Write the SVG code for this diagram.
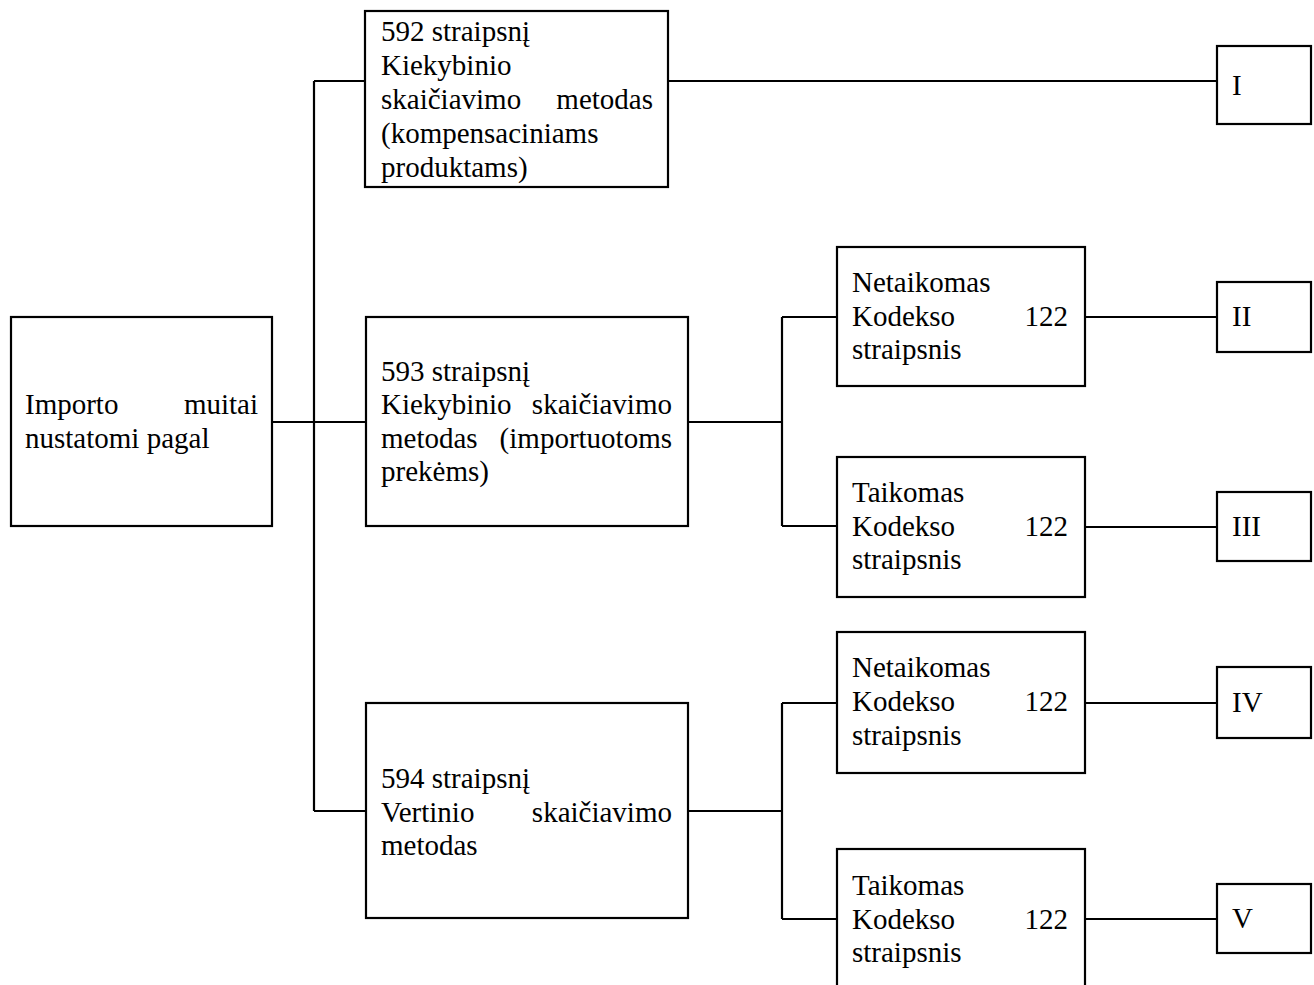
<svg xmlns="http://www.w3.org/2000/svg" width="1314" height="985" viewBox="0 0 1314 985">
<style>
rect{fill:#fff;stroke:#000;stroke-width:2.2}
text{font-family:"Liberation Serif","Times New Roman",serif;font-size:29px;fill:#000}
.e{text-anchor:end}
#connectors path{fill:none;stroke:#000;stroke-width:2.2}
</style>
<rect x="0" y="0" width="1314" height="985" style="fill:#fff;stroke:none"/>
<g id="connectors">
<path d="M314,81 V811"/>
<path d="M314,81 H365"/>
<path d="M272,422 H366"/>
<path d="M314,811 H366"/>
<path d="M668,81 H1217"/>
<path d="M688,422 H782"/>
<path d="M782,317 V526"/>
<path d="M782,317 H837"/>
<path d="M782,526 H837"/>
<path d="M1085,317 H1217"/>
<path d="M1085,527 H1217"/>
<path d="M688,811 H782"/>
<path d="M782,703 V919"/>
<path d="M782,703 H837"/>
<path d="M782,919 H837"/>
<path d="M1085,703 H1217"/>
<path d="M1085,919 H1217"/>
</g>
<g id="import">
<rect x="11" y="317" width="261" height="209"/>
<text x="25" y="414">Importo</text><text class="e" x="258" y="414">muitai</text>
<text x="25" y="448">nustatomi pagal</text>
</g>
<g id="s592">
<rect x="365" y="11" width="303" height="176"/>
<text x="381" y="41">592 straipsnį</text>
<text x="381" y="75">Kiekybinio</text>
<text x="381" y="109">skaičiavimo</text><text class="e" x="653" y="109">metodas</text>
<text x="381" y="143">(kompensaciniams</text>
<text x="381" y="177">produktams)</text>
</g>
<g id="s593">
<rect x="366" y="317" width="322" height="209"/>
<text x="381" y="381">593 straipsnį</text>
<text x="381" y="414">Kiekybinio</text><text class="e" x="672" y="414">skaičiavimo</text>
<text x="381" y="448">metodas</text><text class="e" x="672" y="448">(importuotoms</text>
<text x="381" y="481">prekėms)</text>
</g>
<g id="s594">
<rect x="366" y="703" width="322" height="215"/>
<text x="381" y="788">594 straipsnį</text>
<text x="381" y="822">Vertinio</text><text class="e" x="672" y="822">skaičiavimo</text>
<text x="381" y="855">metodas</text>
</g>
<g id="n1">
<rect x="837" y="247" width="248" height="139"/>
<text x="852" y="292">Netaikomas</text>
<text x="852" y="326">Kodekso</text><text class="e" x="1068" y="326">122</text>
<text x="852" y="359">straipsnis</text>
</g>
<g id="t1">
<rect x="837" y="457" width="248" height="140"/>
<text x="852" y="502">Taikomas</text>
<text x="852" y="536">Kodekso</text><text class="e" x="1068" y="536">122</text>
<text x="852" y="569">straipsnis</text>
</g>
<g id="n2">
<rect x="837" y="632" width="248" height="141"/>
<text x="852" y="677">Netaikomas</text>
<text x="852" y="711">Kodekso</text><text class="e" x="1068" y="711">122</text>
<text x="852" y="745">straipsnis</text>
</g>
<g id="t2">
<rect x="837" y="849" width="248" height="150"/>
<text x="852" y="895">Taikomas</text>
<text x="852" y="929">Kodekso</text><text class="e" x="1068" y="929">122</text>
<text x="852" y="962">straipsnis</text>
</g>
<g id="r1">
<rect x="1217" y="46" width="94" height="78"/>
<text x="1232" y="95">I</text>
</g>
<g id="r2">
<rect x="1217" y="282" width="94" height="70"/>
<text x="1232" y="326">II</text>
</g>
<g id="r3">
<rect x="1217" y="492" width="94" height="69"/>
<text x="1232" y="536">III</text>
</g>
<g id="r4">
<rect x="1217" y="667" width="94" height="71"/>
<text x="1232" y="712">IV</text>
</g>
<g id="r5">
<rect x="1217" y="884" width="94" height="69"/>
<text x="1232" y="928">V</text>
</g>
</svg>
